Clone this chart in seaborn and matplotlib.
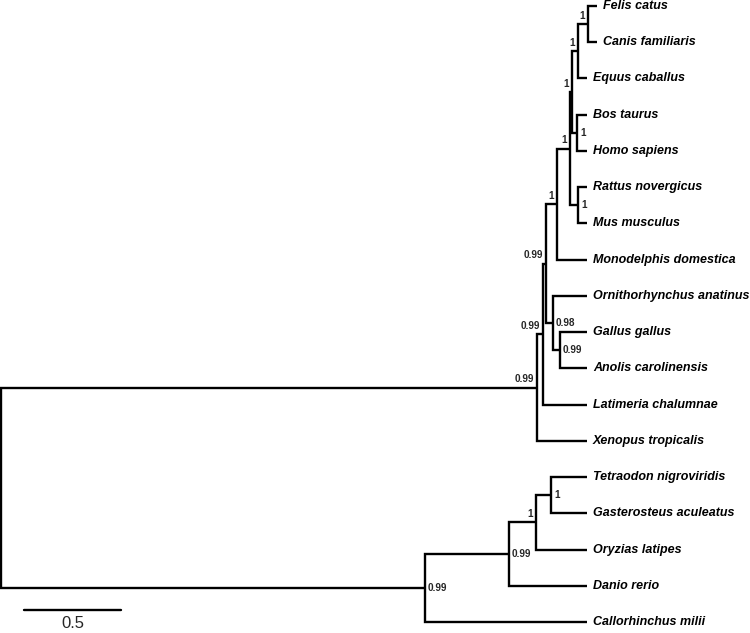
import matplotlib
matplotlib.use("Agg")
import matplotlib.pyplot as plt
import seaborn as sns
import pandas as pd

# ---- data ----
leaves = ["Felis catus", "Canis familiaris", "Equus caballus", "Bos taurus",
          "Homo sapiens", "Rattus novergicus", "Mus musculus",
          "Monodelphis domestica", "Ornithorhynchus anatinus", "Gallus gallus",
          "Anolis carolinensis", "Latimeria chalumnae", "Xenopus tropicalis",
          "Tetraodon nigroviridis", "Gasterosteus aculeatus", "Oryzias latipes",
          "Danio rerio", "Callorhinchus milii"]
# distance of each tip from the root (substitutions per site)
leaf_depth = [3.072, 3.072, 3.021, 3.021, 3.021, 3.021, 3.021, 3.021, 3.021,
              3.021, 3.021, 3.021, 3.021, 3.021, 3.021, 3.021, 3.021, 3.021]

node_ids = ["FC", "FCE", "BH", "N1", "RM", "N2", "N3", "GA", "OGA", "N4",
            "N5", "N6", "TG", "TGO", "F3", "F4", "root"]
node_children = [("Felis catus", "Canis familiaris"),
                 ("FC", "Equus caballus"),
                 ("Bos taurus", "Homo sapiens"),
                 ("FCE", "BH"),
                 ("Rattus novergicus", "Mus musculus"),
                 ("N1", "RM"),
                 ("N2", "Monodelphis domestica"),
                 ("Gallus gallus", "Anolis carolinensis"),
                 ("Ornithorhynchus anatinus", "GA"),
                 ("N3", "OGA"),
                 ("N4", "Latimeria chalumnae"),
                 ("N5", "Xenopus tropicalis"),
                 ("Tetraodon nigroviridis", "Gasterosteus aculeatus"),
                 ("TG", "Oryzias latipes"),
                 ("TGO", "Danio rerio"),
                 ("F3", "Callorhinchus milii"),
                 ("N6", "F4")]
node_depth = [3.026, 2.974, 2.969, 2.943, 2.974, 2.933, 2.866, 2.881, 2.845,
              2.810, 2.794, 2.763, 2.835, 2.758, 2.619, 2.186, 0.0]
node_support = ["1", "1", "1", "1", "1", "1", "1", "0.99", "0.98", "0.99",
                "0.99", "0.99", "1", "1", "0.99", "0.99", ""]
node_label_side = ["L", "L", "R", "L", "R", "L", "L", "R", "R", "L",
                   "L", "L", "R", "L", "R", "R", ""]
scale_length = 0.5
scale_label = "0.5"

# ---- layout ----
PX = 194.0  # pixels per unit
sns.set_style("white")
fig = plt.figure(figsize=(7.5, 6.33), dpi=100)
ax = fig.add_axes([0, 0, 1, 1])

X, Y = {}, {}
for i, (name, d) in enumerate(zip(leaves, leaf_depth)):
    X[name] = d
    Y[name] = i
for nid, ch, d in zip(node_ids, node_children, node_depth):
    X[nid] = d
    Y[nid] = (Y[ch[0]] + Y[ch[1]]) / 2.0

rows = []
for k, (nid, ch) in enumerate(zip(node_ids, node_children)):
    c1, c2 = ch
    pts = [(X[c1], Y[c1]), (X[nid], Y[c1]), (X[nid], Y[c2]), (X[c2], Y[c2])]
    for j, (x, y) in enumerate(pts):
        rows.append({"x": x, "y": y, "seg": k, "order": j})
seg_df = pd.DataFrame(rows)

sns.lineplot(data=seg_df, x="x", y="y", units="seg", estimator=None,
             sort=False, color="black", lw=1.7, ax=ax, legend=False,
             solid_joinstyle="miter", solid_capstyle="butt")

# tip labels
for name in leaves:
    ax.text(X[name] + 6 / PX, Y[name], name, ha="left", va="center",
            fontsize=9.0, fontweight="bold", fontstyle="italic",
            family="Liberation Sans", color="black")

# support values
for nid, sup, side in zip(node_ids, node_support, node_label_side):
    if not sup:
        continue
    if side == "L":
        ax.text(X[nid] - 3 / PX, Y[nid] - 3.5 / 36.24, sup, ha="right",
                va="bottom", fontsize=7.2, fontweight="bold",
                family="Liberation Sans")
    else:
        ax.text(X[nid] + 3 / PX, Y[nid], sup, ha="left", va="center",
                fontsize=7.2, fontweight="bold", family="Liberation Sans")

# scale bar
sb_x0 = 23 / PX
sb_y = (610 - 6) / 36.24
sb_df = pd.DataFrame({"x": [sb_x0, sb_x0 + scale_length], "y": [sb_y, sb_y]})
sns.lineplot(data=sb_df, x="x", y="y", color="black", lw=1.7, ax=ax,
             estimator=None, sort=False)
ax.text(sb_x0 + scale_length / 2, (624 - 6) / 36.24, scale_label,
        ha="center", va="center", fontsize=12, family="Liberation Sans")

ax.set_xlim(-1 / PX, 749 / PX)
ax.set_ylim((633 - 6) / 36.24, -6 / 36.24)
ax.set_axis_off()
ax.set_xlabel("")
ax.set_ylabel("")

fig.savefig("out.png", dpi=100)
